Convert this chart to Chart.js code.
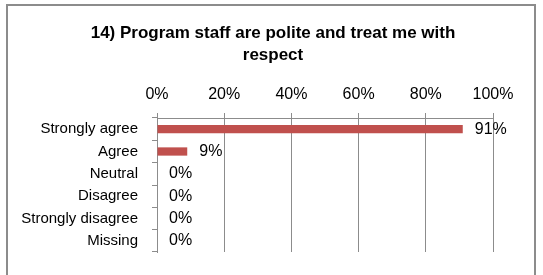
<!DOCTYPE html>
<html>
<head>
<meta charset="utf-8">
<script src="https://cdn.jsdelivr.net/npm/chart.js@4"></script>
<style>
  body { margin: 0; background: #fff; }
  #wrap { position: relative; width: 543px; height: 275px; overflow: hidden; }
  #frame { position: absolute; left: 6px; top: 4px; width: 530px; height: 300px; box-sizing: border-box; border: 2px solid #8c8c8c; pointer-events: none; }
  canvas { position: absolute; left: 0; top: 0; }
</style>
</head>
<body>
<div id="wrap">
  <canvas id="chart" width="543" height="275"></canvas>
  <div id="frame"></div>
</div>
<script>
var titel = ["14) Program staff are polite and treat me with", "respect"];
var kategorien = ["Strongly agree", "Agree", "Neutral", "Disagree", "Strongly disagree", "Missing"];
var werte = [91, 9, 0, 0, 0, 0];
var achsenTicks = [0, 20, 40, 60, 80, 100];

var schrift = "'Liberation Sans', Arial, sans-serif";
Chart.defaults.font.family = schrift;
Chart.defaults.color = "#000";

//Beschriftung neben den Balken
var wertLabels = {
    id: "wertLabels",
    afterDatasetsDraw: function (chart) {
        var ctx = chart.ctx;
        var meta = chart.getDatasetMeta(0);
        ctx.save();
        ctx.font = "16px " + schrift;
        ctx.fillStyle = "#000";
        ctx.textAlign = "left";
        ctx.textBaseline = "middle";
        meta.data.forEach(function (bar, i) {
            ctx.fillText(werte[i] + "%", bar.x + 12, bar.y);
        });
        ctx.restore();
    }
};

var myChart = new Chart(document.getElementById("chart"), {
    type: "bar",
    data: {
        labels: kategorien,
        datasets: [{
            data: werte,
            backgroundColor: "#C0504D",
            borderWidth: 0,
            categoryPercentage: 1,
            barPercentage: 0.37
        }]
    },
    options: {
        indexAxis: "y",
        responsive: false,
        animation: false,
        devicePixelRatio: 1,
        layout: {
            padding: { left: 3, right: 0, top: 0, bottom: 17 }
        },
        plugins: {
            legend: { display: false },
            tooltip: { enabled: false },
            title: {
                display: true,
                text: titel,
                color: "#000",
                font: { size: 17, weight: "bold", lineHeight: "22px" },
                padding: { top: 22, bottom: 0 }
            }
        },
        scales: {
            x: {
                position: "top",
                min: 0,
                max: 100,
                afterFit: function (scale) { scale.height = 52; },
                afterBuildTicks: function (scale) {
                    scale.ticks = achsenTicks.map(function (v) { return { value: v }; });
                },
                ticks: {
                    font: { size: 16 },
                    padding: 9,
                    callback: function (v) { return v + "%"; }
                },
                grid: { color: "#8c8c8c", tickLength: 5 },
                border: { display: true, color: "#8c8c8c" }
            },
            y: {
                afterFit: function (scale) { scale.width = 154; },
                ticks: { font: { size: 15 }, padding: 14 },
                grid: { drawOnChartArea: false, offset: true, color: "#8c8c8c", tickLength: 5 },
                border: { display: true, color: "#8c8c8c" }
            },
            //leerer Platz rechts
            rechts: {
                type: "category",
                position: "right",
                axis: "y",
                afterFit: function (scale) { scale.width = 50; },
                ticks: { display: false },
                grid: { display: false },
                border: { display: false }
            }
        }
    },
    plugins: [wertLabels]
});
</script>
</body>
</html>
